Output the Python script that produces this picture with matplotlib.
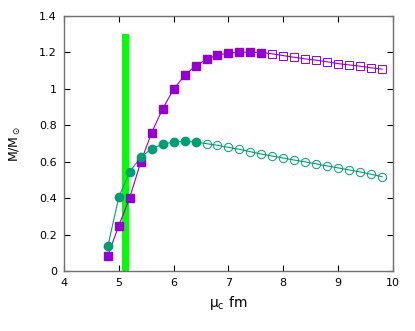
import matplotlib
matplotlib.use('Agg')
import matplotlib.pyplot as plt

# purple squares (filled part, then open part)
x_sq_f = [4.8, 5.0, 5.2, 5.4, 5.6, 5.8, 6.0, 6.2, 6.4, 6.6, 6.8, 7.0, 7.2, 7.4, 7.6]
y_sq_f = [0.085, 0.249, 0.403, 0.597, 0.760, 0.890, 0.998, 1.073, 1.126, 1.162,
          1.186, 1.195, 1.201, 1.201, 1.199]
x_sq_o = [7.8, 8.0, 8.2, 8.4, 8.6, 8.8, 9.0, 9.2, 9.4, 9.6, 9.8]
y_sq_o = [1.192, 1.182, 1.173, 1.164, 1.157, 1.148, 1.138, 1.131, 1.124, 1.115, 1.108]

# green circles (filled part, then open part)
x_ci_f = [4.8, 5.0, 5.2, 5.4, 5.6, 5.8, 6.0, 6.2, 6.4]
y_ci_f = [0.135, 0.405, 0.545, 0.624, 0.672, 0.696, 0.708, 0.712, 0.708]
x_ci_o = [6.6, 6.8, 7.0, 7.2, 7.4, 7.6, 7.8, 8.0, 8.2, 8.4, 8.6, 8.8, 9.0, 9.2, 9.4, 9.6, 9.8]
y_ci_o = [0.699, 0.690, 0.679, 0.668, 0.655, 0.642, 0.631, 0.620, 0.609, 0.599,
          0.588, 0.577, 0.566, 0.555, 0.544, 0.531, 0.518]

# vertical band
bar_x = 5.13
bar_h = 1.3

purple = '#9400D3'
green = '#009E73'

fig = plt.figure(figsize=(4.15, 3.31), dpi=100)
ax = fig.add_axes([0.154, 0.181, 0.793, 0.771])

ax.bar([bar_x], [bar_h], width=0.13, color='#00ff00', zorder=1)

ax.plot(x_sq_f + x_sq_o, y_sq_f + y_sq_o, color=purple, lw=0.8, zorder=2)
ax.plot(x_sq_f, y_sq_f, 's', color=purple, ms=6, zorder=3)
ax.plot(x_sq_o, y_sq_o, 's', mfc='none', mec=purple, mew=0.7, ms=6, zorder=3)

ax.plot(x_ci_f + x_ci_o, y_ci_f + y_ci_o, color=green, lw=0.8, zorder=2)
ax.plot(x_ci_f, y_ci_f, 'o', color=green, ms=6, zorder=3)
ax.plot(x_ci_o, y_ci_o, 'o', mfc='none', mec=green, mew=0.7, ms=6, zorder=3)

ax.set_xlim(4, 10)
ax.set_ylim(0, 1.4)
ax.set_xticks([4, 5, 6, 7, 8, 9, 10])
ax.set_xticklabels(['4', '5', '6', '7', '8', '9', '10'])
ax.set_yticks([0, 0.2, 0.4, 0.6, 0.8, 1.0, 1.2, 1.4])
ax.set_yticklabels(['0', '0.2', '0.4', '0.6', '0.8', '1', '1.2', '1.4'])
ax.tick_params(direction='in', top=True, right=True, labelsize=8, length=4, width=0.8, pad=5)
for s in ax.spines.values():
    s.set_color('#707070')
    s.set_linewidth(1.0)

ax.set_xlabel(r'$\mathregular{\mu_c}$ fm', fontsize=10)
ax.set_ylabel(r'M/M$_\odot$', fontsize=9, labelpad=12)

fig.savefig('out.png', dpi=100)
